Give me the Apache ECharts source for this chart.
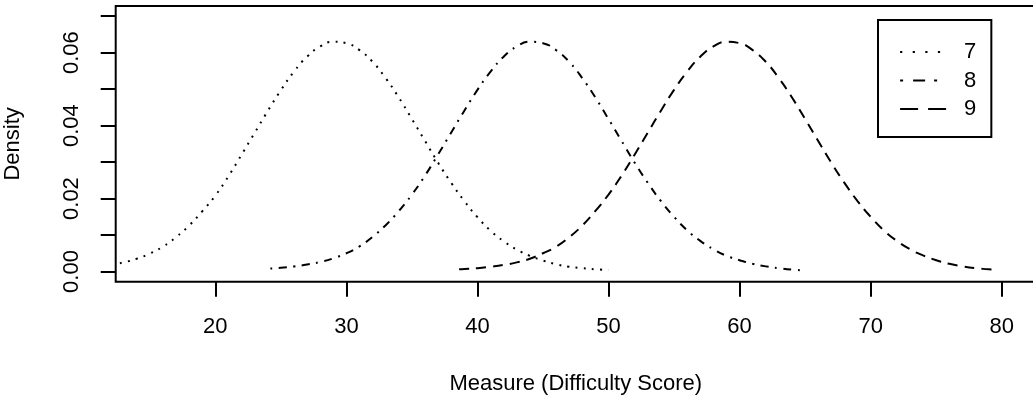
<!DOCTYPE html>
<html><head><meta charset="utf-8">
<script src="https://cdn.jsdelivr.net/npm/echarts@6/dist/echarts.min.js"></script>
<style>html,body{margin:0;padding:0;background:#fff}#c{width:1033px;height:399px}</style>
</head><body><div id="c"></div>
<script>
// ---- data ----
const seriesNames = ['7', '8', '9'];
const xTicks = [20, 30, 40, 50, 60, 70, 80];
const yTicks = [0, 0.01, 0.02, 0.03, 0.04, 0.05, 0.06, 0.07];
const yLabels = [0, 0.02, 0.04, 0.06];

const x7 = [9,10,11,12,13,14,15,16,17,18,19,20,21,22,23,24,25,26,27,28,29,30,31,32,33,34,35,36,37,38,39,40,41,42,43,44,45,46,47,48,49,50];
const y7 = [0.0006,0.0009,0.0012,0.0018,0.0025,0.0035,0.0049,0.0068,0.0094,0.0126,0.0165,0.0208,0.0261,0.0320,0.0380,0.0440,0.0497,0.0548,0.0589,0.0617,0.0630,0.0626,0.0607,0.0575,0.0530,0.0477,0.0418,0.0358,0.0298,0.0243,0.0193,0.0149,0.0112,0.0083,0.0060,0.0043,0.0030,0.0020,0.0013,0.0009,0.0006,0.0004];

const x8 = [24.2,25,26,27,28,29,30,31,32,33,34,35,36,37,38,39,40,41,42,43,44,45,46,47,48,49,50,51,52,53,54,55,56,57,58,59,60,61,62,63,64,64.9];
const y8 = [0.0008,0.0010,0.0014,0.0019,0.0026,0.0036,0.0050,0.0069,0.0095,0.0127,0.0166,0.0211,0.0263,0.0321,0.0381,0.0441,0.0498,0.0548,0.0589,0.0617,0.0630,0.0626,0.0607,0.0575,0.0530,0.0477,0.0418,0.0358,0.0298,0.0243,0.0193,0.0150,0.0113,0.0084,0.0061,0.0043,0.0031,0.0021,0.0014,0.0009,0.0005,0.0003];

const x9 = [38.6,39,40,41,42,43,44,45,46,47,48,49,50,51,52,53,54,55,56,57,58,59,60,61,62,63,64,65,66,67,68,69,70,71,72,73,74,75,76,77,78,79,79.6];
const y9 = [0.0006,0.0007,0.0009,0.0013,0.0018,0.0025,0.0035,0.0050,0.0068,0.0094,0.0126,0.0166,0.0211,0.0263,0.0321,0.0381,0.0441,0.0498,0.0548,0.0589,0.0617,0.0630,0.0626,0.0607,0.0575,0.0530,0.0477,0.0418,0.0358,0.0298,0.0243,0.0193,0.0150,0.0113,0.0084,0.0061,0.0044,0.0031,0.0021,0.0014,0.0009,0.0006,0.0004];

// ---- styling ----
const FONT = "'Liberation Sans', Arial, Helvetica, sans-serif";
const txt = {fontSize: 22, lineHeight: 22, color: '#000', fontFamily: FONT};
const dashes = [[2, 6.2], [2, 6.5, 8, 6.5], [10, 7]];
const legendDashes = [[2.2, 10.4], [3, 10, 12, 9], [18, 10]];

const chart = echarts.init(document.getElementById('c'), null, {renderer: 'canvas'});
const curves = [[x7, y7], [x8, y8], [x9, y9]];

chart.setOption({
  animation: false,
  backgroundColor: '#fff',
  grid: {left: 115.7, top: 6, right: -2.8, bottom: 117.3, show: true, borderColor: '#000', borderWidth: 2, outerBoundsMode: 'none'},
  xAxis: {
    type: 'value', min: 12.4, max: 82.6,
    axisLine: {show: false, onZero: false}, splitLine: {show: false},
    axisTick: {show: true, length: 15, lineStyle: {color: '#000', width: 2}, customValues: xTicks},
    axisLabel: Object.assign({customValues: xTicks, margin: 34}, txt),
    name: 'Measure (Difficulty Score)', nameLocation: 'middle', nameGap: 91.6,
    nameMoveOverlap: false, nameTextStyle: txt
  },
  yAxis: {
    type: 'value', min: -0.0028, max: 0.0728,
    axisLine: {show: false, onZero: false}, splitLine: {show: false},
    axisTick: {show: true, length: 15, lineStyle: {color: '#000', width: 2}, customValues: yTicks},
    axisLabel: Object.assign({customValues: yLabels, rotate: 90, margin: 33, formatter: v => Number(v).toFixed(2)}, txt),
    name: 'Density', nameLocation: 'middle', nameGap: 91.7, nameRotate: 90,
    nameMoveOverlap: false, nameTextStyle: txt
  },
  legend: {
    orient: 'vertical', left: 878, top: 20,
    padding: [21, 15, 17, 21], itemGap: 6.5, itemWidth: 47, itemHeight: 14,
    borderColor: '#000', borderWidth: 2, selectedMode: false,
    itemStyle: {opacity: 0},
    textStyle: Object.assign({padding: [0, 0, 0, 12]}, txt),
    data: seriesNames.map((n, i) => ({name: n, itemStyle: {opacity: 0}, lineStyle: {type: legendDashes[i], width: 2.2, color: '#000', opacity: 1}}))
  },
  series: seriesNames.map((n, i) => ({
    name: n, type: 'line', symbol: 'none', smooth: true, clip: true, silent: true,
    emphasis: {disabled: true},
    lineStyle: {color: '#000', width: 2, type: dashes[i], cap: 'butt'},
    itemStyle: {color: '#000'},
    data: curves[i][0].map((x, k) => [x, curves[i][1][k]])
  }))
});
</script></body></html>
